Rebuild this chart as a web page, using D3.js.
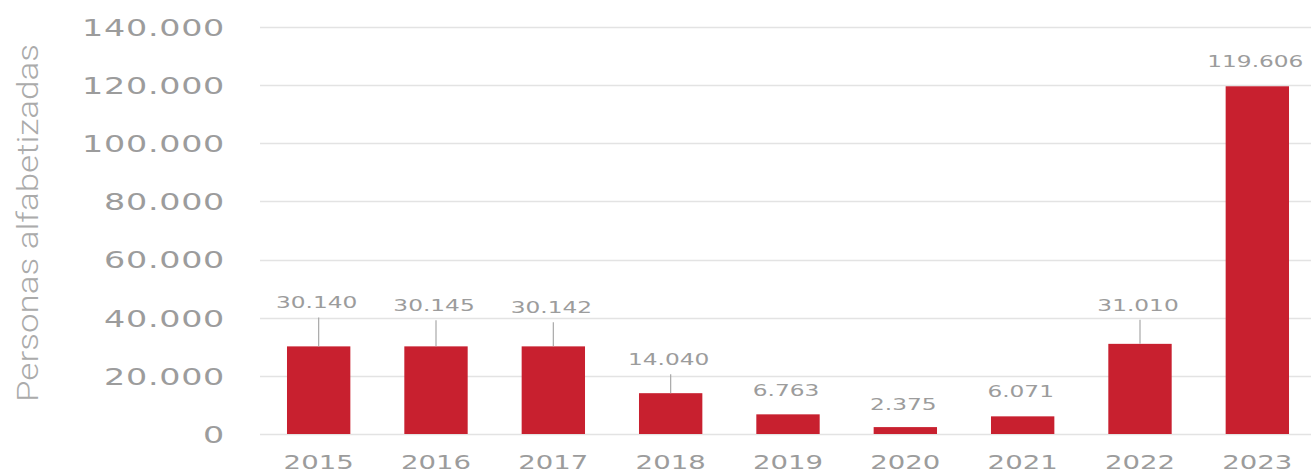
<!DOCTYPE html>
<html>
<head>
<meta charset="utf-8">
<script src="https://cdn.jsdelivr.net/npm/d3@7"></script>
<style>
  html, body { margin: 0; padding: 0; background: #ffffff; }
  svg { display: block; }
</style>
</head>
<body>
<svg id="chart" width="1311" height="473"></svg>
<script>
// ---- data ----
const years = ["2015", "2016", "2017", "2018", "2019", "2020", "2021", "2022", "2023"];
const values = [30140, 30145, 30142, 14040, 6763, 2375, 6071, 31010, 119606];
const yTicks = [0, 20000, 40000, 60000, 80000, 100000, 120000, 140000];
const yTitle = "Personas alfabetizadas";

// ---- layout config (label lift above bar top, px) ----
const labelLift = [38, 35, 33, 28, 18, 17, 19, 33, 19];

const W = 1311, H = 473;
const plotLeft = 260, plotRight = 1316, plotTop = 27, plotBottom = 434;
const barColor = "#c8202f";
const textColor = "#9c9c9c";
const gridColor = "#e3e3e3";
const wide = 1.45;

const loc = d3.formatLocale({ decimal: ",", thousands: ".", grouping: [3], currency: ["", ""] });
const fmt = loc.format(",");

const rows = years.map((yr, i) => ({ year: yr, value: values[i], lift: labelLift[i] }));

const svg = d3.select("#chart");

const x = d3.scaleBand().domain(years).range([plotLeft, plotRight]).paddingInner(0.46).paddingOuter(0.23);
const y = d3.scaleLinear().domain([0, 140000]).range([plotBottom, plotTop]);
const cx = d => x(d.year) + x.bandwidth() / 2;

// gridlines
svg.append("g").selectAll("line").data(yTicks).join("line")
  .attr("x1", plotLeft).attr("x2", W)
  .attr("y1", d => Math.round(y(d)) + 0.5).attr("y2", d => Math.round(y(d)) + 0.5)
  .attr("stroke", gridColor).attr("stroke-width", 1.5);

// y axis
const yAxis = svg.append("g").attr("transform", "translate(225,0)")
  .call(d3.axisLeft(y).tickValues(yTicks).tickFormat(d => fmt(d)).tickSize(0).tickPadding(0));
yAxis.select(".domain").remove();
yAxis.selectAll("text")
  .attr("x", 0).attr("dy", "0.36em")
  .attr("transform", `scale(${wide},1)`)
  .attr("fill", textColor)
  .style("font-family", "DejaVu Sans")
  .style("font-size", "23px")
  .style("letter-spacing", "0.5px");

// x axis
const xAxis = svg.append("g").attr("transform", `translate(0,${plotBottom})`)
  .call(d3.axisBottom(x).tickSize(0).tickPadding(0));
xAxis.select(".domain").remove();
xAxis.selectAll("text")
  .attr("y", 35).attr("dy", 0)
  .attr("transform", `scale(${wide},1)`)
  .attr("fill", textColor)
  .style("font-family", "DejaVu Sans")
  .style("font-size", "19px");

// bars
svg.append("g").selectAll("rect").data(rows).join("rect")
  .attr("x", d => x(d.year))
  .attr("width", x.bandwidth())
  .attr("y", d => y(d.value))
  .attr("height", d => y(0) - y(d.value))
  .attr("fill", barColor);

// leader lines
svg.append("g").selectAll("line").data(rows.filter(d => d.lift > 22)).join("line")
  .attr("x1", cx).attr("x2", cx)
  .attr("y1", d => y(d.value))
  .attr("y2", d => y(d.value) - d.lift + 9)
  .attr("stroke", "#a8a8a8").attr("stroke-width", 1.2);

// value labels
svg.append("g").selectAll("text").data(rows).join("text")
  .attr("transform", d => `translate(${cx(d) - 2},${y(d.value) - d.lift}) scale(1.5,1)`)
  .attr("text-anchor", "middle")
  .attr("fill", textColor)
  .style("font-family", "DejaVu Sans")
  .style("font-size", "15.5px")
  .text(d => fmt(d.value));

// y title
svg.append("text")
  .attr("transform", "translate(28,223) rotate(-90)")
  .attr("text-anchor", "middle")
  .attr("dominant-baseline", "central")
  .attr("fill", "#ababab")
  .style("font-family", "Roboto")
  .style("font-weight", "300")
  .style("font-size", "29px")
  .attr("textLength", 358)
  .attr("lengthAdjust", "spacingAndGlyphs")
  .text(yTitle);
</script>
</body>
</html>
